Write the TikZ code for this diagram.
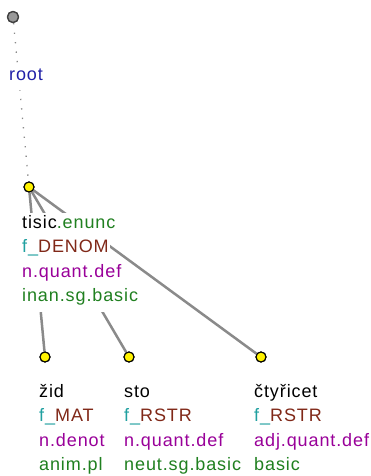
\documentclass[tikz,border=0pt]{standalone}
\usepackage{fontspec}
\setmainfont{Liberation Sans}[LetterSpace=5]
\definecolor{cblue}{HTML}{2020A8}
\definecolor{cgreen}{HTML}{208020}
\definecolor{cteal}{HTML}{20A0A0}
\definecolor{cbrown}{HTML}{802818}
\definecolor{cpurple}{HTML}{990099}
\definecolor{cedge}{HTML}{8A8A8A}
\begin{document}
\begin{tikzpicture}[x=1pt,y=-1pt,
  yellowdot/.style={circle,fill=yellow,draw=black,line width=1.1pt,minimum size=10pt,inner sep=0pt},
  rootdot/.style={circle,fill=black!40,draw=black!75,line width=1.3pt,minimum size=11pt,inner sep=0pt},
  txt/.style={anchor=base west,fill=white,inner xsep=1pt,inner ysep=0pt,text height=15pt,text depth=10pt,font=\fontsize{18}{24.5}\selectfont},
  edge/.style={draw=cedge,line width=2.5pt},
  dotedge/.style={draw=cedge,line width=1.3pt,dash pattern=on 1.3pt off 8.2pt}]
\useasboundingbox (0,0) rectangle (370,476);
% nodes (dots)
\node[rootdot] (r) at (13,17) {};
\node[yellowdot] (t) at (29,187) {};
\node[yellowdot] (z) at (45,357) {};
\node[yellowdot] (s) at (129,357) {};
\node[yellowdot] (c) at (261,357) {};
% edges
\draw[dotedge] (r) -- (t);
\draw[edge] (t) -- (z);
\draw[edge] (t) -- (s);
\draw[edge] (t) -- (c);
% redraw dots on top
\node[rootdot] at (r) {};
\node[yellowdot] at (t) {};
\node[yellowdot] at (z) {};
\node[yellowdot] at (s) {};
\node[yellowdot] at (c) {};
% labels
\node[txt] (rl) at (8,80.5) {\textcolor{cblue}{root}};
\node[txt] (t1) at (21,228) {tisic\textcolor{cgreen}{.enunc}};
\node[txt] (t2) at (21,252.5) {\textcolor{cteal}{f\_}\textcolor{cbrown}{DENOM}};
\node[txt] (t3) at (21,277) {\textcolor{cpurple}{n.quant.def}};
\node[txt] (t4) at (21,301.5) {\textcolor{cgreen}{inan.sg.basic}};
\node[txt] (z1) at (38,397) {žid};
\node[txt] (z2) at (38,421.5) {\textcolor{cteal}{f\_}\textcolor{cbrown}{MAT}};
\node[txt] (z3) at (38,446) {\textcolor{cpurple}{n.denot}};
\node[txt] (z4) at (38,470.5) {\textcolor{cgreen}{anim.pl}};
\node[txt] (s1) at (123,397) {sto};
\node[txt] (s2) at (123,421.5) {\textcolor{cteal}{f\_}\textcolor{cbrown}{RSTR}};
\node[txt] (s3) at (123,446) {\textcolor{cpurple}{n.quant.def}};
\node[txt] (s4) at (123,470.5) {\textcolor{cgreen}{neut.sg.basic}};
\node[txt] (c1) at (253,397) {čtyřicet};
\node[txt] (c2) at (253,421.5) {\textcolor{cteal}{f\_}\textcolor{cbrown}{RSTR}};
\node[txt] (c3) at (253,446) {\textcolor{cpurple}{adj.quant.def}};
\node[txt] (c4) at (253,470.5) {\textcolor{cgreen}{basic}};
\end{tikzpicture}
\end{document}
